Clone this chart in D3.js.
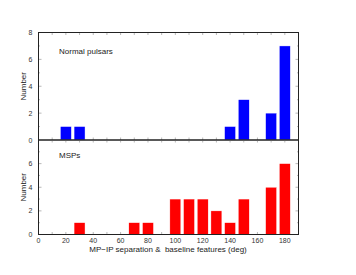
<!DOCTYPE html>
<html>
<head>
<meta charset="utf-8">
<script src="https://cdn.jsdelivr.net/npm/d3@7.9.0/dist/d3.min.js"></script>
<style>
  body { margin: 0; background: #fff; }
  svg { font-family: "Liberation Sans", Arial, sans-serif; }
</style>
</head>
<body>
<svg id="chart" width="356" height="275"></svg>
<script>
// bin centres (deg) and counts
const normalBins = [20, 30, 140, 150, 170, 180];
const normalCounts = [1, 1, 1, 3, 2, 7];
const mspBins = [30, 70, 80, 100, 110, 120, 130, 140, 150, 170, 180];
const mspCounts = [1, 1, 1, 3, 3, 3, 2, 1, 3, 4, 6];
const xTicks = [0, 20, 40, 60, 80, 100, 120, 140, 160, 180];
const yTicksTop = [0, 2, 4, 6, 8];
const yTicksBottom = [0, 2, 4, 6];

const svg = d3.select('#chart');
const left = 38.5, right = 298.5;
const binWidth = 8;

const x = d3.scaleLinear().domain([0, 190]).range([left, right]);

function drawPanel(top, bottom, bins, counts, color, yTicks, label) {
  const y = d3.scaleLinear().domain([0, 8]).range([bottom, top]);
  const g = svg.append('g');

  // minor ticks every 10 deg along top and bottom edges
  const minor = d3.range(10, 190, 10);
  g.selectAll('.tb').data(minor).join('line')
    .attr('x1', d => x(d)).attr('x2', d => x(d))
    .attr('y1', bottom).attr('y2', bottom - 2.5)
    .attr('stroke', '#999').attr('stroke-width', 0.7);
  g.selectAll('.tt').data(minor).join('line')
    .attr('x1', d => x(d)).attr('x2', d => x(d))
    .attr('y1', top).attr('y2', top + 2.5)
    .attr('stroke', '#999').attr('stroke-width', 0.7);

  // y ticks left and right
  const yt = d3.range(1, 8);
  g.selectAll('.yl').data(yt).join('line')
    .attr('x1', left).attr('x2', d => left + (d % 2 === 0 ? 3 : 1.5))
    .attr('y1', d => y(d)).attr('y2', d => y(d))
    .attr('stroke', '#999').attr('stroke-width', 0.7);
  g.selectAll('.yr').data(yt).join('line')
    .attr('x1', right).attr('x2', d => right - (d % 2 === 0 ? 3 : 1.5))
    .attr('y1', d => y(d)).attr('y2', d => y(d))
    .attr('stroke', '#999').attr('stroke-width', 0.7);

  g.selectAll('rect.bar').data(bins).join('rect')
    .attr('class', 'bar')
    .attr('x', d => x(d - binWidth / 2))
    .attr('width', d => x(d + binWidth / 2) - x(d - binWidth / 2))
    .attr('y', (d, i) => y(counts[i]))
    .attr('height', (d, i) => y(0) - y(counts[i]))
    .attr('fill', color)
    .attr('stroke', '#fff')
    .attr('stroke-width', 0.4);

  g.selectAll('text.yl').data(yTicks).join('text')
    .attr('class', 'yl')
    .attr('x', left - 6)
    .attr('y', d => y(d) + 2.5)
    .attr('text-anchor', 'end')
    .attr('font-size', 7)
    .attr('fill', '#333')
    .text(d => d);

  g.append('text')
    .attr('transform', `translate(26,${(top + bottom) / 2}) rotate(-90)`)
    .attr('text-anchor', 'middle')
    .attr('font-size', 8)
    .attr('fill', '#222')
    .text('Number');

  g.append('text')
    .attr('x', 59).attr('y', top + (label === 'MSPs' ? 18 : 21))
    .attr('font-size', 8)
    .attr('fill', '#222')
    .text(label);

  g.append('rect')
    .attr('x', left).attr('y', top)
    .attr('width', right - left).attr('height', bottom - top)
    .attr('fill', 'none')
    .attr('stroke', '#222').attr('stroke-width', 1);
}

drawPanel(32.5, 140, normalBins, normalCounts, '#0000ff', yTicksTop, 'Normal pulsars');
drawPanel(140, 234.5, mspBins, mspCounts, '#ff0000', yTicksBottom, 'MSPs');

// bottom axis labels
svg.selectAll('text.xt').data(xTicks).join('text')
  .attr('class', 'xt')
  .attr('x', d => x(d))
  .attr('y', 243)
  .attr('text-anchor', 'middle')
  .attr('font-size', 7)
  .attr('fill', '#333')
  .text(d => d);

svg.append('text')
  .attr('x', 168).attr('y', 251.5)
  .attr('text-anchor', 'middle')
  .attr('font-size', 8)
  .attr('fill', '#222')
  .attr('xml:space', 'preserve')
  .style('white-space', 'pre')
  .text('MP\u2212IP separation &  baseline features (deg)');
</script>
</body>
</html>
